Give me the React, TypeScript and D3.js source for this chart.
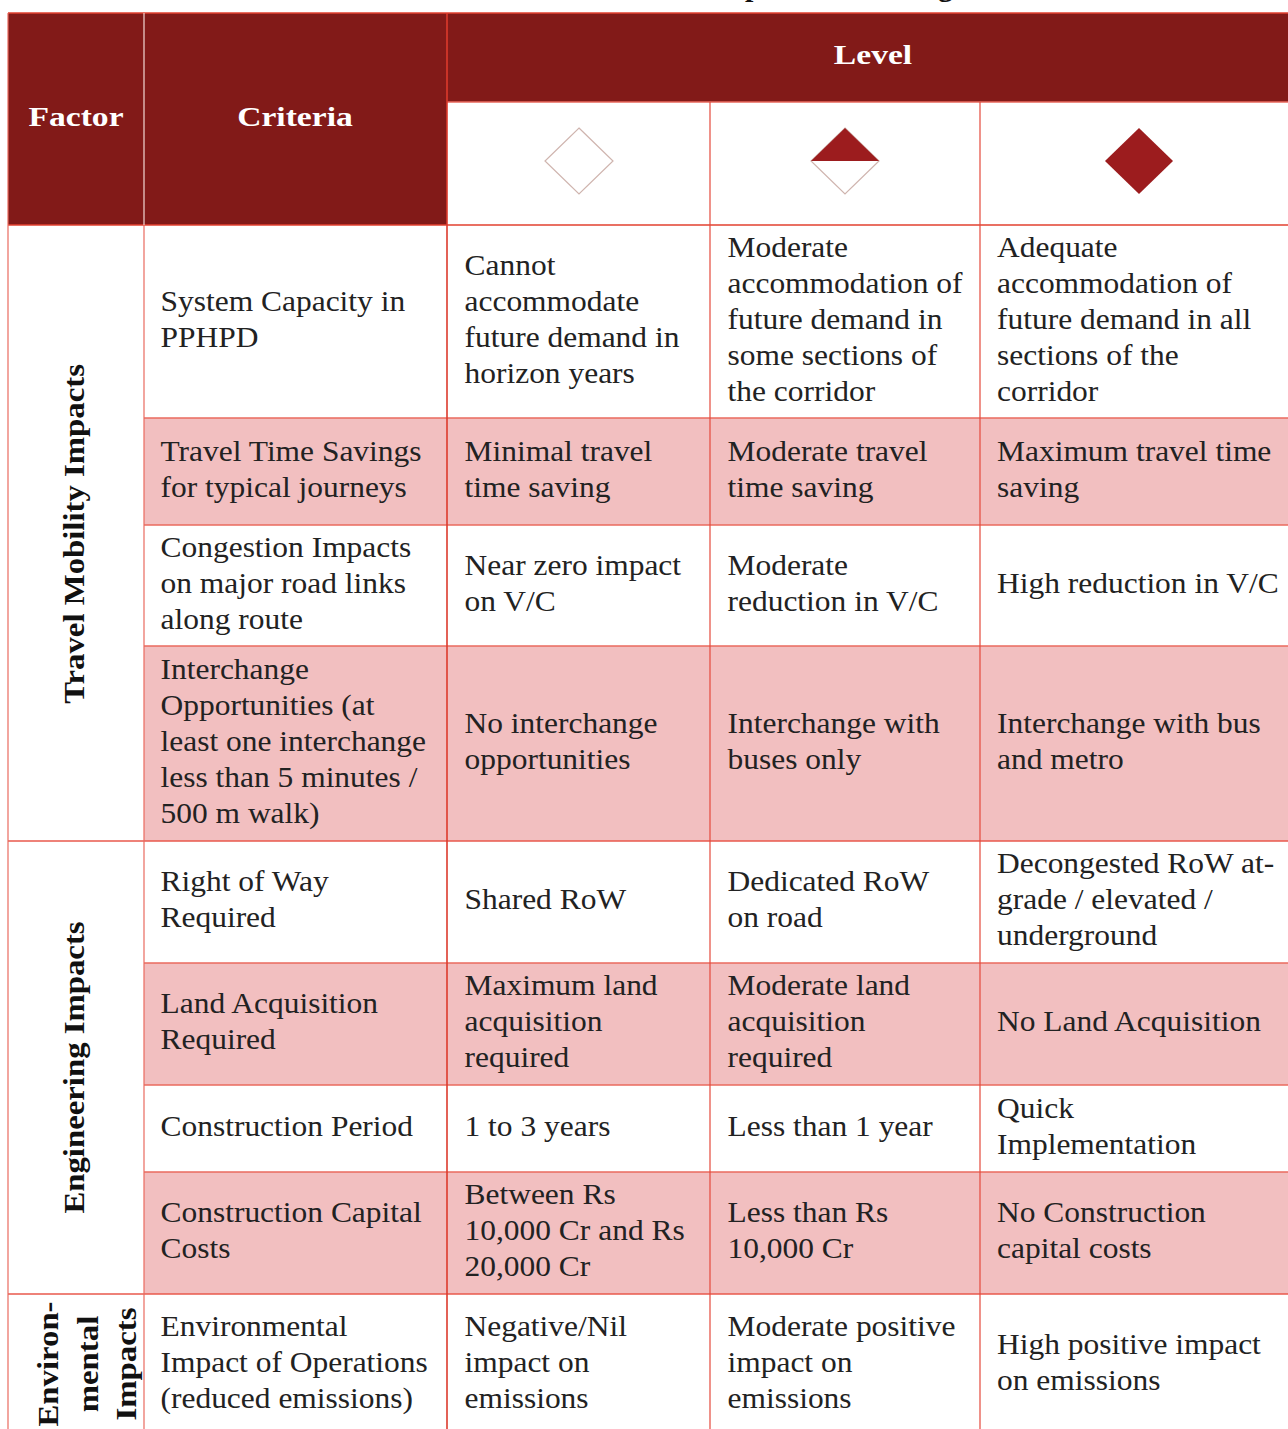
import { useEffect, useRef } from 'react'
import * as d3 from 'd3'

// table content, one array per column, each cell split in its printed lines
const criteria = [
  ['System Capacity in', 'PPHPD'],
  ['Travel Time Savings', 'for typical journeys'],
  ['Congestion Impacts', 'on major road links', 'along route'],
  ['Interchange', 'Opportunities (at', 'least one interchange', 'less than 5 minutes /', '500 m walk)'],
  ['Right of Way', 'Required'],
  ['Land Acquisition', 'Required'],
  ['Construction Period'],
  ['Construction Capital', 'Costs'],
  ['Environmental', 'Impact of Operations', '(reduced emissions)'],
]
const lowLevel = [
  ['Cannot', 'accommodate', 'future demand in', 'horizon years'],
  ['Minimal travel', 'time saving'],
  ['Near zero impact', 'on V/C'],
  ['No interchange', 'opportunities'],
  ['Shared RoW'],
  ['Maximum land', 'acquisition', 'required'],
  ['1 to 3 years'],
  ['Between Rs', '10,000 Cr and Rs', '20,000 Cr'],
  ['Negative/Nil', 'impact on', 'emissions'],
]
const midLevel = [
  ['Moderate', 'accommodation of', 'future demand in', 'some sections of', 'the corridor'],
  ['Moderate travel', 'time saving'],
  ['Moderate', 'reduction in V/C'],
  ['Interchange with', 'buses only'],
  ['Dedicated RoW', 'on road'],
  ['Moderate land', 'acquisition', 'required'],
  ['Less than 1 year'],
  ['Less than Rs', '10,000 Cr'],
  ['Moderate positive', 'impact on', 'emissions'],
]
const highLevel = [
  ['Adequate', 'accommodation of', 'future demand in all', 'sections of the', 'corridor'],
  ['Maximum travel time', 'saving'],
  ['High reduction in V/C'],
  ['Interchange with bus', 'and metro'],
  ['Decongested RoW at-', 'grade / elevated /', 'underground'],
  ['No Land Acquisition'],
  ['Quick', 'Implementation'],
  ['No Construction', 'capital costs'],
  ['High positive impact', 'on emissions'],
]
const factors = [
  { lines: ['Travel Mobility Impacts'], from: 0, to: 3 },
  { lines: ['Engineering Impacts'], from: 4, to: 7 },
  { lines: ['Environ-', 'mental', 'Impacts'], from: 8, to: 8 },
]
const shadedRows = [1, 3, 5, 7]
const levelKinds = ['empty', 'half', 'full']

// layout
const W = 1288
const H = 1429
const colEdges = [8, 144, 447, 710, 980, 1288]
const rowEdges = [225, 418, 525, 646, 841, 963, 1085, 1172, 1294, 1436] // last row runs off the page
const top = 13
const levelBottom = 102
const lineH = 36
const serif = "'Liberation Serif', serif"
const wide = 1.085 // Liberation is narrower than the original face

const RED = '#e2402f'
const HEAD = '#821a18'
const PINK = '#f2bfc0'
const DIAMOND = '#9c1c1e'

export default function App() {
  const ref = useRef<SVGSVGElement>(null)

  useEffect(() => {
    const svg = d3.select(ref.current)
    svg.selectAll('*').remove()

    const rowIdx = d3.range(criteria.length)
    const y0 = d3.scaleOrdinal<number, number>().domain(rowIdx).range(rowEdges.slice(0, -1))
    const y1 = d3.scaleOrdinal<number, number>().domain(rowIdx).range(rowEdges.slice(1))

    // cut off title above the table
    svg.append('g').selectAll('text').data([{ t: 'p', x: 745 }, { t: 'g', x: 938 }]).join('text')
      .attr('x', d => d.x).attr('y', -4.5)
      .attr('font-family', serif).attr('font-weight', 'bold').attr('font-size', 30).attr('fill', '#111')
      .text(d => d.t)

    // header + shaded bands
    svg.append('rect').attr('x', colEdges[0]).attr('y', top)
      .attr('width', colEdges[2] - colEdges[0]).attr('height', rowEdges[0] - top).attr('fill', HEAD)
    svg.append('rect').attr('x', colEdges[2]).attr('y', top)
      .attr('width', W - colEdges[2]).attr('height', levelBottom - top).attr('fill', HEAD)
    svg.append('g').selectAll('rect').data(shadedRows).join('rect')
      .attr('x', colEdges[1]).attr('y', d => y0(d))
      .attr('width', W - colEdges[1]).attr('height', d => y1(d) - y0(d))
      .attr('fill', PINK)

    // grid
    const line = (x1: number, y1_: number, x2: number, y2: number, color = RED, w = 1.3) =>
      svg.append('line').attr('x1', x1).attr('y1', y1_).attr('x2', x2).attr('y2', y2)
        .attr('stroke', color).attr('stroke-width', w)

    line(colEdges[0], top, W, top, RED, 1.6)
    line(colEdges[2], levelBottom, W, levelBottom, '#e8685c', 1.3)
    line(colEdges[0], rowEdges[0], W, rowEdges[0], RED, 1.6)
    rowIdx.forEach(i => {
      if (i === rowIdx.length - 1) return
      const isFactorEnd = factors.some(f => f.to === i)
      line(isFactorEnd ? colEdges[0] : colEdges[1], y1(i), W, y1(i), isFactorEnd ? '#e8584c' : '#ea6a5e', 1.3)
    })
    line(colEdges[0], top, colEdges[0], H, '#ea6a5e', 1.2)
    line(colEdges[1], top, colEdges[1], rowEdges[0], '#f4d9d6', 1.2)
    line(colEdges[1], rowEdges[0], colEdges[1], H, '#ea6a5e', 1.2)
    line(colEdges[2], top, colEdges[2], H, '#dc3a2c', 1.6)
    line(colEdges[3], levelBottom, colEdges[3], H, '#e4493b', 1.2)
    line(colEdges[4], levelBottom, colEdges[4], H, '#e4493b', 1.2)

    // headings
    const heads = [
      { t: 'Factor', x: 76, y: 117 },
      { t: 'Criteria', x: 295, y: 117 },
      { t: 'Level', x: 873, y: 55 },
    ]
    svg.append('g').selectAll('text').data(heads).join('text')
      .attr('transform', d => `translate(${d.x},${d.y + 9}) scale(1.2,1)`)
      .attr('text-anchor', 'middle')
      .attr('font-family', serif).attr('font-weight', 'bold').attr('font-size', 28).attr('fill', '#fff')
      .text(d => d.t)

    // level diamonds
    const diamondX = [579, 845, 1139]
    const cy = 161
    const rx = 34
    const ry = 33
    const diamondPath = d3.line<[number, number]>()
    levelKinds.forEach((kind, i) => {
      const cx = diamondX[i]
      const g = svg.append('g')
      g.append('path')
        .attr('d', diamondPath([[cx, cy - ry], [cx + rx, cy], [cx, cy + ry], [cx - rx, cy]]) + 'Z')
        .attr('fill', kind === 'full' ? DIAMOND : '#fff')
        .attr('stroke', kind === 'full' ? 'none' : '#cfb4ae')
        .attr('stroke-width', 1.2)
      if (kind === 'half') {
        g.append('path')
          .attr('d', diamondPath([[cx, cy - ry], [cx + rx, cy], [cx - rx, cy]]) + 'Z')
          .attr('fill', DIAMOND)
      }
    })

    // body text
    const columns = [criteria, lowLevel, midLevel, highLevel]
    const textX = [160.5, 464.5, 727.5, 997]
    columns.forEach((col, c) => {
      col.forEach((lines, r) => {
        const mid = (y0(r) + y1(r)) / 2
        svg.append('g').selectAll('text').data(lines).join('text')
          .attr('transform', (_, k) =>
            `translate(${textX[c]},${mid + (k - (lines.length - 1) / 2) * lineH + 7}) scale(${wide},1)`)
          .attr('font-family', serif).attr('font-size', 29).attr('fill', '#222')
          .text(d => d)
      })
    })

    // rotated factor labels
    const factorBaseX = [[84], [84], [58, 98, 136]]
    factors.forEach((f, i) => {
      const mid = i === 2 ? 1364 : (y0(f.from) + y1(f.to)) / 2 + (i === 0 ? 1 : 0)
      svg.append('g').selectAll('text').data(f.lines).join('text')
        .attr('transform', (_, k) => `translate(${factorBaseX[i][k]},${mid}) rotate(-90) scale(1.13,1)`)
        .attr('text-anchor', 'middle')
        .attr('font-family', serif).attr('font-weight', 'bold').attr('font-size', 29).attr('fill', '#111')
        .text(d => d)
    })
  }, [])

  return <svg ref={ref} width={W} height={H} style={{ position: 'absolute', left: 0, top: 0, background: '#fff' }} />
}
